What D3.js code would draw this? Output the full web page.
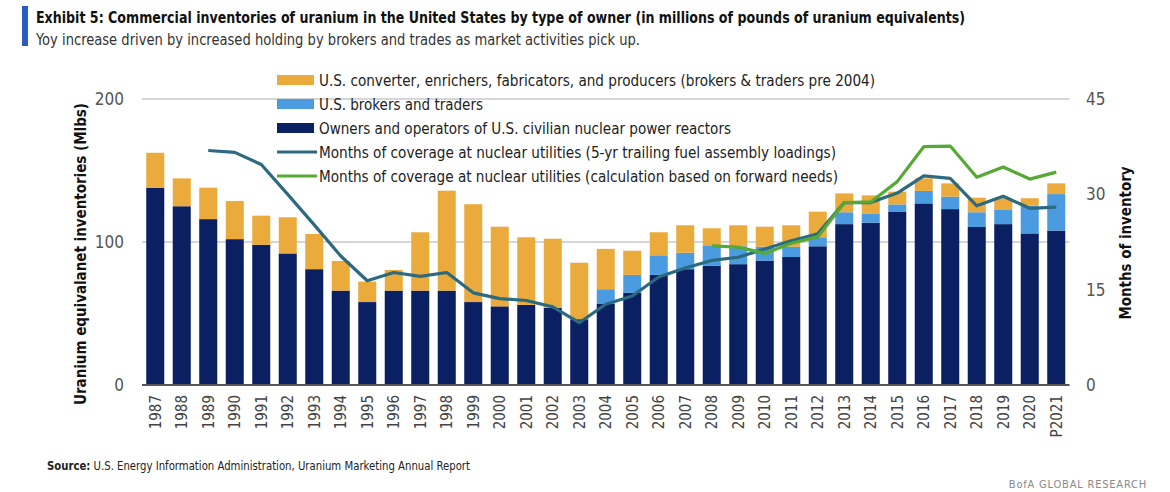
<!DOCTYPE html>
<html>
<head>
<meta charset="utf-8">
<script src="https://cdn.jsdelivr.net/npm/d3@7"></script>
<style>
  html, body { margin: 0; padding: 0; background: #fff; }
  svg { display: block; }
  text { font-family: "Liberation Sans Narrow", "DejaVu Sans Condensed", "Roboto", sans-serif; }
</style>
</head>
<body>
<svg id="chart" width="1170" height="492"></svg>
<script>
// ---------- data ----------
const years = ["1987","1988","1989","1990","1991","1992","1993","1994","1995","1996","1997","1998","1999","2000","2001","2002","2003","2004","2005","2006","2007","2008","2009","2010","2011","2012","2013","2014","2015","2016","2017","2018","2019","2020","P2021"];
const owners = [138,125,116,102,98,92,81,66,58,66,66,66,58,55,56,54,46,57,64.5,77,81,83.5,84.5,87,89.5,97,112.5,113.5,121,127,123,110.5,112.5,106,108];
const brokers = [0,0,0,0,0,0,0,0,0,0,0,0,0,0,0,0,0,10,12.5,13.7,11.5,13.7,12.5,9.7,7.2,6.3,8.3,6.5,5.3,8.7,8.7,10.3,9.9,19.4,25.5];
const converters = [24.4,19.5,22,26.7,20.4,25.3,24.6,20.7,14.3,14.4,40.8,69.9,68.4,55.7,47.3,48.3,39.5,28.2,16.9,16.1,19.2,12.4,14.7,14,15,17.9,13.2,12.6,8.9,8.8,9.3,10.2,8.2,5.2,7.5];
const monthsTrailing = [null,null,36.9,36.6,34.7,30.0,25.2,20.3,16.4,17.7,17.1,17.7,14.5,13.6,13.3,12.3,9.8,12.7,14.0,17.0,18.4,19.6,20.1,21.4,22.7,23.8,28.7,28.7,30.2,32.9,32.5,28.2,29.7,27.8,28.0];
const monthsForward = [null,null,null,null,null,null,null,null,null,null,null,null,null,null,null,null,null,null,null,null,null,21.9,21.7,20.7,22.3,23.3,28.7,28.8,32.0,37.5,37.6,32.7,34.3,32.4,33.5];
const leftTicks = [0,100,200];
const rightTicks = [0,15,30,45];
const legendLabels = [
  "U.S. converter, enrichers, fabricators, and producers (brokers & traders pre 2004)",
  "U.S. brokers and traders",
  "Owners and operators of U.S. civilian nuclear power reactors",
  "Months of coverage at nuclear utilities (5-yr trailing fuel assembly loadings)",
  "Months of coverage at nuclear utilities (calculation based on forward needs)"
];
const titleText = "Exhibit 5: Commercial inventories of uranium in the United States by type of owner (in millions of pounds of uranium equivalents)";
const subtitleText = "Yoy increase driven by increased holding by brokers and trades as market activities pick up.";

// ---------- styles ----------
const C = { conv: "#EBAA3C", brok: "#4A9BE0", own: "#0B1F63", trail: "#2C6A80", fwd: "#55A935" };

const svg = d3.select("#chart");

// title block
svg.append("rect").attr("x", 22).attr("y", 6).attr("width", 6).attr("height", 40).attr("fill", "#2A5CC4");
svg.append("text").attr("x", 36).attr("y", 23).attr("font-size", 15).attr("font-weight", "bold")
  .attr("fill", "#111").attr("textLength", 929).attr("lengthAdjust", "spacingAndGlyphs").text(titleText);
svg.append("text").attr("x", 36).attr("y", 45).attr("font-size", 15)
  .attr("fill", "#333").attr("textLength", 604).attr("lengthAdjust", "spacingAndGlyphs").text(subtitleText);

// scales
const x = d3.scaleBand().domain(years).range([142, 1069.5]).paddingInner(0.32).paddingOuter(0.16);
const yL = d3.scaleLinear().domain([0, 200]).range([385, 99]);
const yR = d3.scaleLinear().domain([0, 45]).range([385, 99]);

// gridlines
svg.append("g").selectAll("line").data(leftTicks.filter(d => d > 0)).join("line")
  .attr("x1", 142).attr("x2", 1069.5).attr("y1", d => yL(d)).attr("y2", d => yL(d))
  .attr("stroke", "#c8c8c8").attr("stroke-width", 1.5);

// stacked bars
const rows = years.map((y, i) => ({ year: y, own: owners[i], brok: brokers[i], conv: converters[i] }));
const stack = d3.stack().keys(["own", "brok", "conv"])(rows);
svg.append("g").selectAll("g").data(stack).join("g")
  .attr("fill", d => C[d.key])
  .selectAll("rect").data(d => d).join("rect")
  .attr("x", d => x(d.data.year)).attr("width", x.bandwidth())
  .attr("y", d => yL(d[1])).attr("height", d => Math.max(0, yL(d[0]) - yL(d[1])));

// baseline
svg.append("line").attr("x1", 142).attr("x2", 1069.5).attr("y1", yL(0)).attr("y2", yL(0))
  .attr("stroke", "#555").attr("stroke-width", 2);

// lines
function drawLine(vals, color) {
  const line = d3.line()
    .defined(d => d.v !== null)
    .x(d => x(d.year) + x.bandwidth() / 2)
    .y(d => yR(d.v));
  svg.append("path").datum(years.map((y, i) => ({ year: y, v: vals[i] })))
    .attr("d", line).attr("fill", "none").attr("stroke", color).attr("stroke-width", 3.2)
    .attr("stroke-linejoin", "round");
}
drawLine(monthsTrailing, C.trail);
drawLine(monthsForward, C.fwd);

// left axis
const axL = d3.axisLeft(yL).tickValues(leftTicks).tickSize(0).tickPadding(0);
const gL = svg.append("g").attr("transform", "translate(124,0)").call(axL);
gL.select(".domain").remove();
gL.selectAll("text").attr("font-size", 17).attr("fill", "#555").attr("font-family", null);

// right axis
const axR = d3.axisRight(yR).tickValues(rightTicks).tickSize(0).tickPadding(0);
const gR = svg.append("g").attr("transform", "translate(1086,0)").call(axR);
gR.select(".domain").remove();
gR.selectAll("text").attr("font-size", 17).attr("fill", "#555").attr("font-family", null);

// x axis labels
const axX = d3.axisBottom(x).tickSize(0).tickPadding(0);
const gX = svg.append("g").attr("transform", "translate(0,395)").call(axX);
gX.select(".domain").remove();
gX.selectAll("text").attr("font-size", 15).attr("fill", "#444").attr("font-family", null)
  .attr("text-anchor", "end").attr("transform", "rotate(-90)").attr("x", 0).attr("y", 0).attr("dy", "0.35em");

// axis titles
svg.append("text").attr("transform", "translate(80,254) rotate(-90)").attr("text-anchor", "middle")
  .attr("dy", "0.35em").attr("font-size", 16).attr("font-weight", "bold").attr("fill", "#111")
  .attr("textLength", 302).attr("lengthAdjust", "spacingAndGlyphs").text("Uranium equivalanet inventories (Mlbs)");
svg.append("text").attr("transform", "translate(1125,243) rotate(-90)").attr("text-anchor", "middle")
  .attr("dy", "0.35em").attr("font-size", 16).attr("font-weight", "bold").attr("fill", "#111")
  .attr("textLength", 153).attr("lengthAdjust", "spacingAndGlyphs").text("Months of inventory");

// legend
const legendY = [80, 104, 128, 152, 176];
const legendLen = [556, 164, 412, 517, 519];
const legendType = [["rect", C.conv], ["rect", C.brok], ["rect", C.own], ["line", C.trail], ["line", C.fwd]];
const lg = svg.append("g");
legendLabels.forEach((lab, i) => {
  const [t, col] = legendType[i];
  if (t === "rect") {
    lg.append("rect").attr("x", 277).attr("y", legendY[i] - 5).attr("width", 37).attr("height", 10).attr("fill", col);
  } else {
    lg.append("line").attr("x1", 277).attr("x2", 317).attr("y1", legendY[i]).attr("y2", legendY[i])
      .attr("stroke", col).attr("stroke-width", 3.2);
  }
  lg.append("text").attr("x", 319).attr("y", legendY[i]).attr("dy", "0.35em").attr("font-size", 16)
    .attr("fill", "#222").attr("textLength", legendLen[i]).attr("lengthAdjust", "spacingAndGlyphs").text(lab);
});

// footer
const src = svg.append("text").attr("x", 47).attr("y", 470).attr("font-size", 11.5).attr("fill", "#222")
  .attr("textLength", 423).attr("lengthAdjust", "spacingAndGlyphs");
src.append("tspan").attr("font-weight", "bold").text("Source:");
src.append("tspan").text("  U.S. Energy Information Administration, Uranium Marketing Annual Report");
svg.append("text").attr("x", 1147).attr("y", 488).attr("text-anchor", "end").attr("font-size", 11)
  .attr("fill", "#888").attr("letter-spacing", 0.8).text("BofA GLOBAL RESEARCH");
</script>
</body>
</html>
